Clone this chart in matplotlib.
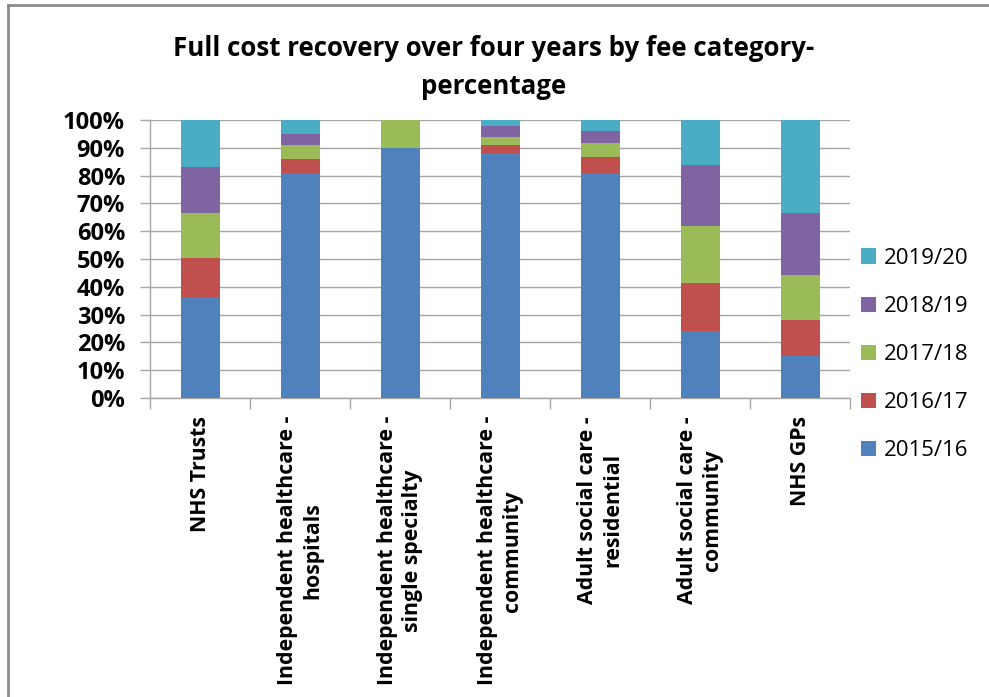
import matplotlib
matplotlib.use("Agg")
import matplotlib.pyplot as plt
from matplotlib.lines import Line2D
from matplotlib.patches import Patch
import numpy as np

categories = [
    "NHS Trusts",
    "Independent healthcare -\nhospitals",
    "Independent healthcare -\nsingle specialty",
    "Independent healthcare -\ncommunity",
    "Adult social care -\nresidential",
    "Adult social care -\ncommunity",
    "NHS GPs",
]
series_names = ["2015/16", "2016/17", "2017/18", "2018/19", "2019/20"]
v_2015_16 = [36.2, 80.8, 90.1, 88.1, 80.5, 24.2, 15.0]
v_2016_17 = [14.2, 5.1, 0.0, 2.9, 6.3, 17.0, 12.9]
v_2017_18 = [16.1, 5.1, 9.9, 2.8, 5.1, 20.8, 16.5]
v_2018_19 = [16.6, 4.1, 0.0, 4.2, 4.1, 21.7, 22.2]
v_2019_20 = [16.9, 4.9, 0.0, 2.0, 4.0, 16.3, 33.4]
series_values = [v_2015_16, v_2016_17, v_2017_18, v_2018_19, v_2019_20]
colors = ["#4F81BD", "#C0504D", "#9BBB59", "#8064A2", "#4BACC6"]
yticks = [0, 10, 20, 30, 40, 50, 60, 70, 80, 90, 100]
ytick_labels = [f"{t}%" for t in yticks]

plt.rcParams['font.family'] = ['Open Sans', 'DejaVu Sans']

W, H = 989, 697
fig = plt.figure(figsize=(W / 100, H / 100), dpi=100)
ax = fig.add_axes([150 / W, 1 - 398 / H, 700 / W, 278 / H])

x = np.arange(len(categories))
bottom = np.zeros(len(categories))
handles = []
for name, vals, c in zip(series_names, series_values, colors):
    vals = np.array(vals)
    ax.bar(x, vals, width=0.39, bottom=bottom, color=c, edgecolor='none', zorder=3)
    bottom += vals
    handles.append(Patch(facecolor=c, edgecolor='none', label=name))

ax.set_xlim(-0.5, len(categories) - 0.5)
ax.set_ylim(0, 100)
ax.set_yticks(yticks)
ax.set_yticklabels(ytick_labels, fontsize=17, fontweight='bold', color='black')
ax.yaxis.grid(True, color='#A6A6A6', linewidth=1.0, zorder=0)
ax.set_axisbelow(True)

ax.set_xticks(x)
ax.set_xticklabels(categories, rotation=90, fontsize=15.3, fontweight='bold',
                   ha='center', va='top', multialignment='center',
                   linespacing=1.28)
ax.tick_params(axis='x', which='major', length=0, pad=13)
ax.set_xticks(np.arange(-0.5, len(categories)), minor=True)
ax.tick_params(axis='x', which='minor', length=8, color='#A6A6A6', width=1)
ax.tick_params(axis='y', length=7, color='#A6A6A6', width=1, pad=11)

for s in ['top', 'right']:
    ax.spines[s].set_visible(False)
for s in ['left', 'bottom']:
    ax.spines[s].set_color('#A6A6A6')
    ax.spines[s].set_linewidth(1)

fig.text(494 / W, 1 - 48 / H, "Full cost recovery over four years by fee category-",
         ha='center', va='center', fontsize=18.6, fontweight='bold')
fig.text(494 / W, 1 - 86 / H, "percentage",
         ha='center', va='center', fontsize=18.6, fontweight='bold')

leg = fig.legend(handles=handles[::-1], loc='upper left',
                 bbox_to_anchor=(852 / W, 1 - 239 / H), frameon=False,
                 fontsize=16, handlelength=0.68, handleheight=0.68,
                 handletextpad=0.35, labelspacing=1.22, borderaxespad=0)

# chart area border (top and left visible)
fig.add_artist(Line2D([8 / W, 8 / W], [0, 1 - 5 / H], transform=fig.transFigure,
                      color='#8C8C8C', linewidth=2))
fig.add_artist(Line2D([8 / W, 1], [1 - 5 / H, 1 - 5 / H], transform=fig.transFigure,
                      color='#8C8C8C', linewidth=2))

fig.savefig("out.png", dpi=100, facecolor='white')
